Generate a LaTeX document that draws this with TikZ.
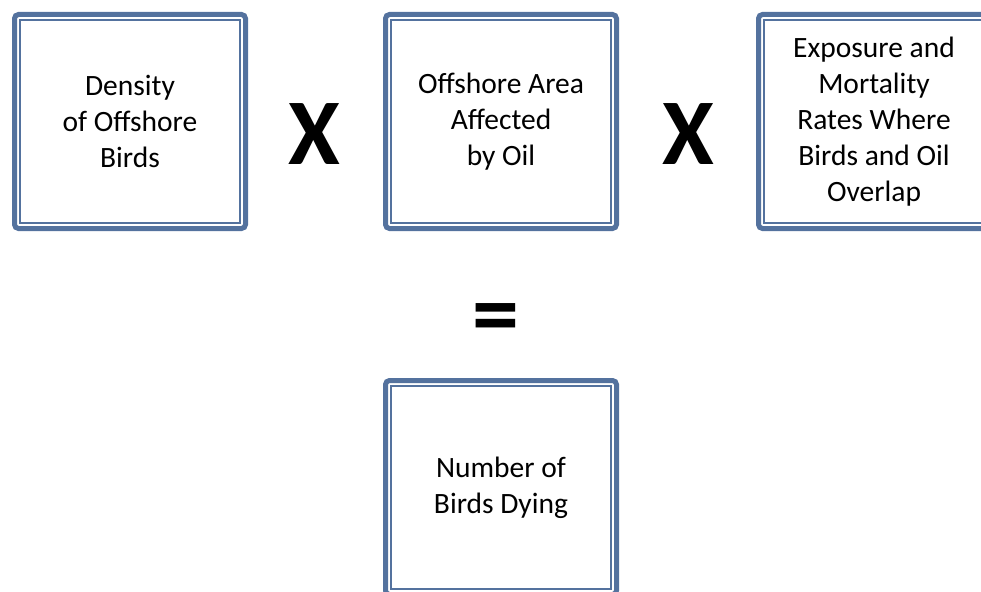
\documentclass[tikz,border=0pt]{standalone}
\usepackage{fontspec}
\setmainfont{Carlito}
\usepackage{tikz}
\usetikzlibrary{positioning,calc}
\definecolor{frameblue}{RGB}{84,114,158}

\begin{document}
\begin{tikzpicture}[x=1pt, y=-1pt,
  term/.style={draw=frameblue, line width=5pt, rounded corners=4pt, fill=white,
               minimum width=231pt, minimum height=214pt, inner sep=0pt,
               font=\fontsize{29.5}{36}\selectfont, align=center},
  inset/.style={draw=frameblue, line width=1.6pt},
  op/.style={font=\fontsize{94}{94}\selectfont\bfseries, inner sep=0pt}
]
\useasboundingbox (0,0) rectangle (981,591);

% factors
\node[term] (DB) at (130,121.5) {Density\\of Offshore\\Birds};
\node[term] (OA) at (501,121.5) {Offshore Area\\Affected\\by Oil};
\node[term] (ER) at (874,121.5) {Exposure and\\Mortality\\Rates Where\\Birds and Oil\\Overlap};

% result
\node[term] (ND) at (501,487.5) {Number of\\Birds Dying};

% inner frames
\foreach \n in {DB,OA,ER,ND}
  \draw[inset] ($(\n.north west)+(8,8)$) rectangle ($(\n.south east)+(-8,-8)$);

% operators
\node[op, anchor=base] (T1) at (314.5,164) {X};
\node[op, anchor=base] (T2) at (688,164) {X};
\node[op, anchor=base] (EQ) at (495.5,345) {=};
\end{tikzpicture}
\end{document}
